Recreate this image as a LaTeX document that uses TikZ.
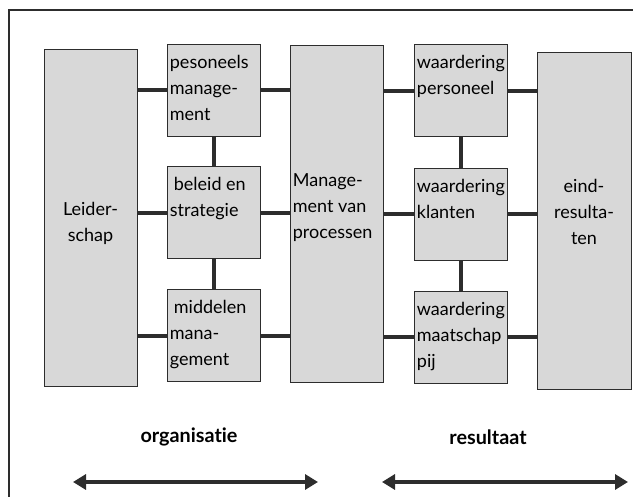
\documentclass[tikz,border=0pt]{standalone}
\usepackage{fontspec}
\setmainfont[Ligatures={NoCommon}]{Lato}
\usetikzlibrary{arrows.meta,positioning}
\definecolor{boxgray}{RGB}{216,216,216}
\definecolor{inkgray}{RGB}{45,45,45}
\tikzset{
  blok/.style={draw=inkgray, line width=0.5pt, fill=boxgray, minimum width=46.5pt, minimum height=46pt, inner sep=0pt},
  hoog/.style={blok, minimum height=168.5pt},
  tekst/.style={anchor=north west, align=left, inner sep=0pt, font=\fontsize{9}{13}\selectfont},
  midtekst/.style={tekst, anchor=north, align=center},
  kop/.style={inner sep=0pt, font=\fontsize{9.9}{12}\selectfont\bfseries},
  lijn/.style={draw=inkgray, line width=2pt},
  pijl/.style={draw=inkgray, line width=2.2pt, {Triangle[length=6.5pt,width=7.5pt]}-{Triangle[length=6.5pt,width=7.5pt]}},
}
\begin{document}
\begin{tikzpicture}[x=0.5pt,y=-0.5pt]
\useasboundingbox (0,0) rectangle (633,497);

% frame (runs off the page right and below)
\draw [inkgray, line width=0.8pt] (633,10) -- (9,10) -- (9,497);

% the columns
\node [hoog] (lead) at (90.5,218.5) {};
\node [blok] (pers) at (213.5,90.5) {};
\node [blok] (beleid) at (213.5,213) {};
\node [blok] (middel) at (213.5,336) {};
\node [hoog] (proc) at (336.5,214) {};
\node [blok] (wpers) at (460.5,91) {};
\node [blok] (wklant) at (460.5,214.5) {};
\node [blok] (wmaat) at (460.5,337.5) {};
\node [hoog, minimum width=47pt] (eind) at (584,221.5) {};

% texts in the boxes
\node [midtekst] (lead-t) at ([yshift=-76pt]lead.north) {Leider-\\schap};
\node [tekst] (pers-t) at ([xshift=1.5pt,yshift=-5.3pt]pers.north west) {pesoneels\\manage-\\ment};
\node [tekst] (beleid-t) at ([xshift=1.5pt,yshift=-5.3pt]beleid.north west) {\hspace*{2pt}beleid en\\strategie};
\node [tekst] (middel-t) at ([xshift=1.5pt,yshift=-5.3pt]middel.north west) {\hspace*{2pt}middelen\\mana-\\gement};
\node [tekst] (proc-t) at ([xshift=1.5pt,yshift=-64pt]proc.north west) {Manage-\\ment van\\processen};
\node [tekst] (wpers-t) at ([xshift=1.5pt,yshift=-5.3pt]wpers.north west) {waardering\\personeel};
\node [tekst] (wklant-t) at ([xshift=1.5pt,yshift=-5.3pt]wklant.north west) {waardering\\klanten};
\node [tekst] (wmaat-t) at ([xshift=1.5pt,yshift=-5.3pt]wmaat.north west) {waardering\\maatschap\\pij};
\node [midtekst] (eind-t) at ([yshift=-63pt]eind.north) {eind-\\resulta-\\ten};

% links between the boxes
\draw [lijn] (pers.west -| lead.east) -- (pers.west);
\draw [lijn] (beleid.west -| lead.east) -- (beleid.west);
\draw [lijn] (middel.west -| lead.east) -- (middel.west);
\draw [lijn] (pers.east) -- (pers.east -| proc.west);
\draw [lijn] (beleid.east) -- (beleid.east -| proc.west);
\draw [lijn] (middel.east) -- (middel.east -| proc.west);
\draw [lijn] (wpers.west -| proc.east) -- (wpers.west);
\draw [lijn] (wklant.west -| proc.east) -- (wklant.west);
\draw [lijn] (wmaat.west -| proc.east) -- (wmaat.west);
\draw [lijn] (wpers.east) -- (wpers.east -| eind.west);
\draw [lijn] (wklant.east) -- (wklant.east -| eind.west);
\draw [lijn] (wmaat.east) -- (wmaat.east -| eind.west);
\draw [lijn] (pers.south) -- (beleid.north);
\draw [lijn] (beleid.south) -- (middel.north);
\draw [lijn] (wpers.south) -- (wklant.north);
\draw [lijn] (wklant.south) -- (wmaat.north);

% bottom labels and arrows
\node [kop] (org) at (189,437) {organisatie};
\node [kop] (res) at (488,437) {resultaat};
\coordinate (org-l) at (73,482);
\coordinate (org-r) at (318,482);
\coordinate (res-l) at (382,482);
\coordinate (res-r) at (628,482);
\draw [pijl] (org-l) -- (org-r);
\draw [pijl] (res-l) -- (res-r);
\end{tikzpicture}
\end{document}
